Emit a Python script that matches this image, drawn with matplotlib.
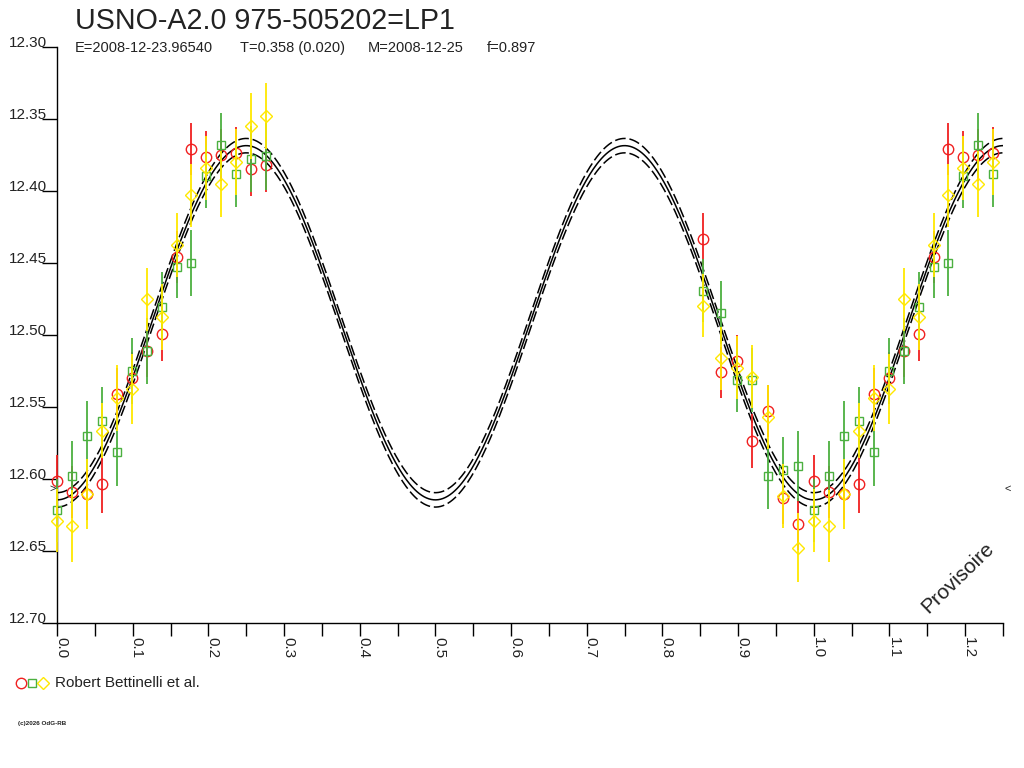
import numpy as np
import matplotlib
matplotlib.use("Agg")
import matplotlib.pyplot as plt

plt.rcParams['font.family'] = ['Liberation Sans', 'DejaVu Sans']

# observations (phase, mag, err) - three comparison series
phase = [0.8536, 0.8774, 0.8990, 0.9190, 0.9395, 0.9589, 0.9795,
         0.0000, 0.0198, 0.0396, 0.0595, 0.0793, 0.0991, 0.1189, 0.1388,
         0.1586, 0.1771, 0.1966, 0.2167, 0.2365, 0.2563, 0.2762]

red_mag = [12.4333, 12.5260, 12.5178, 12.5736, 12.5528, 12.6130, 12.6315,
           12.6014, 12.6088, 12.6104, 12.6035, 12.5408, 12.5300, 12.5109, 12.4993,
           12.4461, 12.3708, 12.3766, 12.3752, 12.3736, 12.3847, 12.3817]
red_err = [0.018, 0.018, 0.018, 0.019, 0.018, 0.018, 0.018,
           0.018, 0.018, 0.018, 0.020, 0.018, 0.018, 0.018, 0.019,
           0.018, 0.018, 0.018, 0.018, 0.018, 0.019, 0.019]

green_mag = [12.4692, 12.4845, 12.5313, 12.5313, 12.5980, 12.5938, 12.5910,
             12.6217, 12.5977, 12.5700, 12.5600, 12.5810, 12.5250, 12.5110, 12.4803,
             12.4526, 12.4502, 12.3898, 12.3678, 12.3880, 12.3780, 12.3760]
green_err = [0.022, 0.022, 0.022, 0.022, 0.023, 0.023, 0.024,
             0.022, 0.024, 0.024, 0.024, 0.024, 0.023, 0.023, 0.024,
             0.022, 0.023, 0.022, 0.022, 0.023, 0.023, 0.023]

yellow_mag = [12.4796, 12.5162, 12.5227, 12.5290, 12.5570, 12.6118, 12.6477,
              12.6290, 12.6324, 12.6104, 12.5665, 12.5440, 12.5375, 12.4752, 12.4875,
              12.4375, 12.4030, 12.3840, 12.3950, 12.3800, 12.3549, 12.3480]
yellow_err = [0.022, 0.022, 0.022, 0.022, 0.022, 0.022, 0.024,
              0.022, 0.025, 0.024, 0.019, 0.023, 0.024, 0.022, 0.023,
              0.022, 0.022, 0.022, 0.023, 0.023, 0.023, 0.023]

# fitted light curve
fit_mean = 12.4915
fit_amp = 0.1230
fit_sigma = 0.005
mean_mark = 12.607

xticks = np.arange(0, 1.2501, 0.05)
yticks = [12.30, 12.35, 12.40, 12.45, 12.50, 12.55, 12.60, 12.65, 12.70]

header_items = ['E=2008-12-23.96540', 'T=0.358 (0.020)', 'M=2008-12-25', 'f=0.897']
header_x = [75, 240, 368, 487]

RED = '#f02020'
GREEN = '#4cb040'
YELLOW = '#ffe800'
TXT = '#222222'

W, H = 1024, 768
fig = plt.figure(figsize=(W / 100, H / 100), dpi=100)
ax = fig.add_axes([57 / W, 1 - 623 / H, (1003 - 57) / W, (623 - 47) / H])

# fit curves
ph = np.linspace(0, 1.25, 800)
fit = fit_mean + fit_amp * np.cos(4 * np.pi * ph)
ax.plot(ph, fit, color='black', lw=1.1, zorder=2)
ax.plot(ph, fit - fit_sigma, color='black', lw=1.1, ls=(0, (7, 2.5)), zorder=2)
ax.plot(ph, fit + fit_sigma, color='black', lw=1.1, ls=(0, (7, 2.5)), zorder=2)


def draw_series(mag, err, color, marker, ms, z):
    ph_all, m_all, e_all = [], [], []
    for p, m, e in zip(phase, mag, err):
        for q in (p - 1, p, p + 1):
            if 0 <= q <= 1.25:
                ph_all.append(q)
                m_all.append(m)
                e_all.append(e)
    ax.errorbar(ph_all, m_all, yerr=e_all, fmt=marker, ms=ms, mfc='none',
                mec=color, mew=1.0, ecolor=color, elinewidth=1.3, capsize=0,
                zorder=z, clip_on=False)


draw_series(red_mag, red_err, RED, 'o', 7.5, 3)
draw_series(green_mag, green_err, GREEN, 's', 6.3, 4)
draw_series(yellow_mag, yellow_err, YELLOW, 'D', 6.5, 5)

ax.text(-0.002, mean_mark, '>', ha='right', va='center', fontsize=8, color=TXT)
ax.text(1.252, mean_mark, '<', ha='left', va='center', fontsize=8, color=TXT,
        clip_on=False)

ax.set_xlim(0, 1.25)
ax.set_ylim(12.70, 12.30)

for s in ('top', 'right'):
    ax.spines[s].set_visible(False)
for s in ('left', 'bottom'):
    ax.spines[s].set_linewidth(1.0)

ax.set_xticks(xticks)
ax.set_xticklabels(['%.1f' % t if round(t * 100) % 10 == 0 else '' for t in xticks])
ax.set_yticks(yticks)
ax.set_yticklabels(['%.2f' % t for t in yticks])
ax.tick_params(axis='x', direction='out', length=9, width=1, pad=1,
               labelsize=11, labelcolor=TXT)
ax.tick_params(axis='y', direction='out', length=11, width=1, pad=-4,
               labelsize=11, labelcolor=TXT)
for lab in ax.get_xticklabels():
    lab.set_rotation(-90)
    lab.set_rotation_mode('anchor')
    lab.set_ha('left')
    lab.set_va('baseline')
for lab in ax.get_yticklabels():
    lab.set_va('baseline')

ax.text(0.952, 0.078, 'Provisoire', transform=ax.transAxes, rotation=44,
        ha='center', va='center', fontsize=15, color=TXT)

# header
fig.text(75 / W, 1 - 21 / H, 'USNO-A2.0 975-505202=LP1', fontsize=20.6,
         color=TXT, va='center', ha='left')
for item, x in zip(header_items, header_x):
    fig.text(x / W, 1 - 48 / H, item, fontsize=10.5, color=TXT,
             va='center', ha='left')

# legend and footer in pixel coordinates
lg = fig.add_axes([0, 0, 1, 1], facecolor='none')
lg.set_xlim(0, W)
lg.set_ylim(H, 0)
lg.axis('off')
lg.plot([21], [683], 'o', ms=7.5, mfc='none', mec=RED, mew=1.0)
lg.plot([32], [683], 's', ms=6, mfc='none', mec=GREEN, mew=1.0)
lg.plot([43], [683], 'D', ms=6.2, mfc='none', mec=YELLOW, mew=1.0)
lg.text(55, 683, 'Robert Bettinelli et al.', fontsize=11, color=TXT,
        va='center', ha='left')
lg.text(18, 724, '(c)2026 OdG-RB', fontsize=4.5, color=TXT, weight='bold',
        va='center', ha='left')

fig.savefig('out.png', dpi=100)
